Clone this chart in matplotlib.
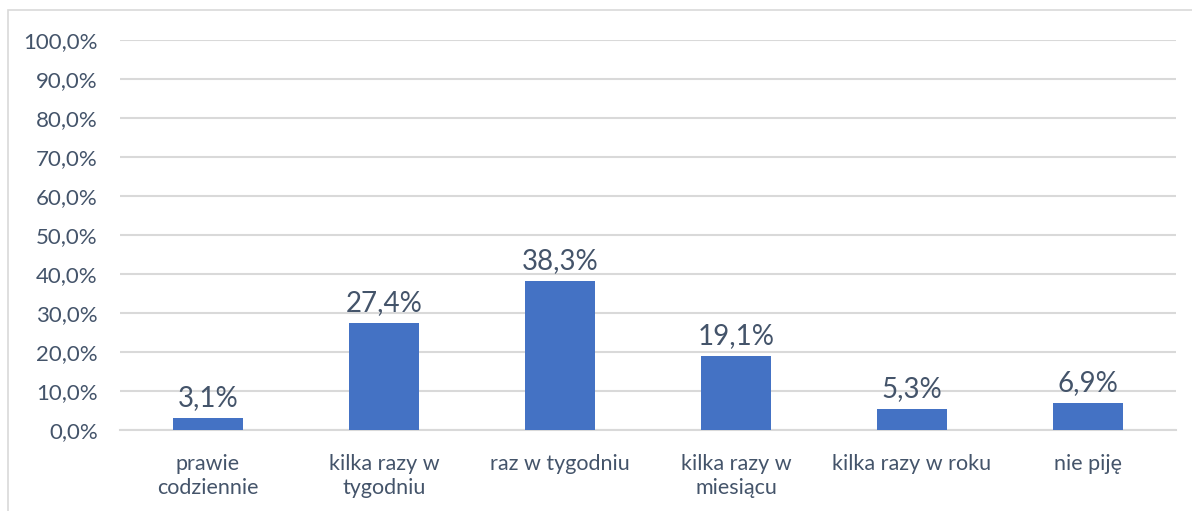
import matplotlib.pyplot as plt
from matplotlib.patches import Rectangle
import numpy as np

categories = ["prawie\ncodziennie", "kilka razy w\ntygodniu", "raz w tygodniu",
              "kilka razy w\nmiesiącu", "kilka razy w roku", "nie piję"]
values = [3.1, 27.4, 38.3, 19.1, 5.3, 6.9]
yticks = [0, 10, 20, 30, 40, 50, 60, 70, 80, 90, 100]

text_color = "#44546A"
bar_color = "#4472C4"
grid_color = "#D9D9D9"

plt.rcParams['font.family'] = ['Lato', 'DejaVu Sans']

fig = plt.figure(figsize=(11.92, 5.11), dpi=100)
ax = fig.add_axes([120 / 1192, 81 / 511, 1056 / 1192, 390 / 511])

x = np.arange(len(categories))
bars = ax.bar(x, values, width=0.4, color=bar_color, zorder=3)

# Value labels above bars
for rect, v in zip(bars, values):
    ax.annotate(f"{v:.1f}%".replace(".", ","),
                xy=(rect.get_x() + rect.get_width() / 2, rect.get_height()),
                xytext=(0, 5), textcoords="offset points",
                ha="center", va="bottom", fontsize=20, color=text_color)

ax.set_xlim(-0.5, len(categories) - 0.5)
ax.set_ylim(0, 100)
ax.set_yticks(yticks)
ax.set_yticklabels([f"{t:.1f}%".replace(".", ",") for t in yticks],
                   fontsize=16, color=text_color)
ax.set_xticks(x)
ax.set_xticklabels(categories, fontsize=15.5, color=text_color, linespacing=1.3)
ax.tick_params(axis="both", length=0)
ax.tick_params(axis="y", pad=16)
ax.tick_params(axis="x", pad=17)

ax.grid(axis="y", color=grid_color, linewidth=1.5, zorder=0)
for side in ["top", "right", "left"]:
    ax.spines[side].set_visible(False)
ax.spines["bottom"].set_color(grid_color)
ax.spines["bottom"].set_linewidth(1.5)

# Chart border
fig.patches.append(Rectangle((8 / 1192, -0.1), 1.2, (511 - 10) / 511 + 0.1,
                             transform=fig.transFigure, fill=False,
                             edgecolor="#D9D9D9", linewidth=1.2))

fig.savefig("out.png", dpi=100)
